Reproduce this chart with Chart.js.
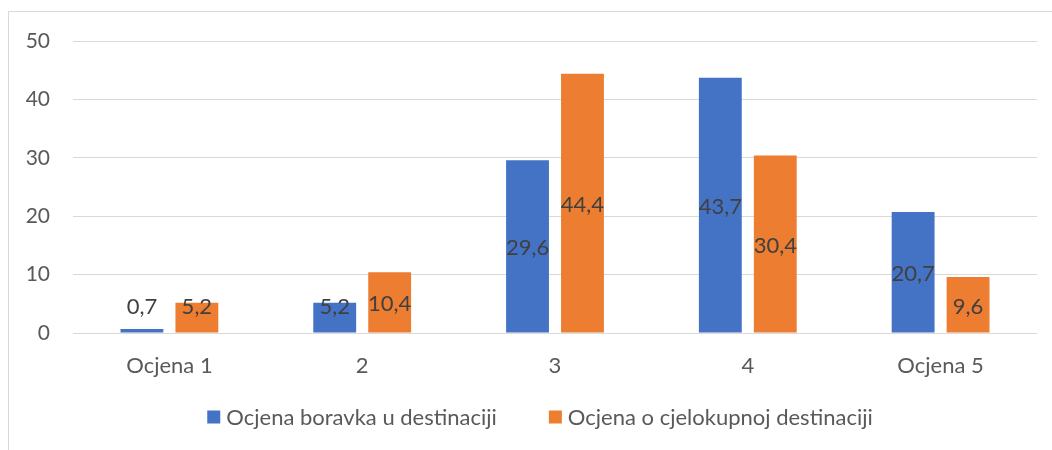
<!DOCTYPE html>
<html>
<head>
<meta charset="utf-8">
<script src="https://cdn.jsdelivr.net/npm/chart.js@4.4.0/dist/chart.umd.min.js"></script>
<style>
  html, body { margin: 0; padding: 0; background: #fff; }
  #wrap { width: 1052px; height: 450px; }
</style>
</head>
<body>
<div id="wrap"><canvas id="chart" width="1052" height="450"></canvas></div>
<script>
var categories = ['Ocjena 1', '2', '3', '4', 'Ocjena 5'];
var boravak = [0.7, 5.2, 29.6, 43.7, 20.7];
var cjelokupna = [5.2, 10.4, 44.4, 30.4, 9.6];
var seriesNames = ['Ocjena boravka u destinaciji', 'Ocjena o cjelokupnoj destinaciji'];
var yTicks = [0, 10, 20, 30, 40, 50];

var FONT = 'Lato, "Open Sans", sans-serif';
var TEXT = '#595959';

// frame round the chart, cut off at right and bottom like in the picture
var frame = {
  id: 'frame',
  beforeDraw: function (chart) {
    var ctx = chart.ctx;
    ctx.save();
    ctx.fillStyle = '#fff';
    ctx.fillRect(0, 0, chart.width, chart.height);
    ctx.strokeStyle = '#d9d9d9';
    ctx.lineWidth = 1;
    ctx.strokeRect(8.5, 11.5, 1200, 1000);
    ctx.restore();
  }
};

// numbers in the middle of the bars, comma as decimal sign
var valueLabels = {
  id: 'valueLabels',
  afterDatasetsDraw: function (chart) {
    var ctx = chart.ctx;
    ctx.save();
    ctx.font = '22px ' + FONT;
    ctx.fillStyle = '#404040';
    ctx.textAlign = 'center';
    ctx.textBaseline = 'middle';
    chart.data.datasets.forEach(function (ds, i) {
      chart.getDatasetMeta(i).data.forEach(function (bar, j) {
        var y = Math.min((bar.y + bar.base) / 2 + 2, bar.base - 26);
        ctx.fillText(ds.data[j].toFixed(1).replace('.', ','), bar.x, y);
      });
    });
    ctx.restore();
  }
};

// legend under the chart
var bottomLegend = {
  id: 'bottomLegend',
  afterDraw: function (chart) {
    var ctx = chart.ctx;
    var box = 13, gap = 6, spacing = 52, cy = 417;
    ctx.save();
    ctx.font = '22px ' + FONT;
    ctx.textBaseline = 'middle';
    var widths = chart.data.datasets.map(function (ds) {
      return box + gap + ctx.measureText(ds.label).width;
    });
    var total = widths.reduce(function (a, b) { return a + b; }, 0) + spacing * (widths.length - 1);
    var x = 540 - total / 2;
    chart.data.datasets.forEach(function (ds, i) {
      ctx.fillStyle = ds.backgroundColor;
      ctx.fillRect(x, cy - box / 2, box, box);
      ctx.fillStyle = TEXT;
      ctx.fillText(ds.label, x + box + gap, cy + 1);
      x += widths[i] + spacing;
    });
    ctx.restore();
  }
};

new Chart(document.getElementById('chart'), {
  type: 'bar',
  data: {
    labels: categories,
    datasets: [
      { label: seriesNames[0], data: boravak, backgroundColor: '#4472C4' },
      { label: seriesNames[1], data: cjelokupna, backgroundColor: '#ED7D31' }
    ]
  },
  options: {
    responsive: false,
    animation: false,
    devicePixelRatio: 1,
    categoryPercentage: 0.57,
    barPercentage: 0.78,
    layout: { padding: { left: 0, right: 15, top: 41, bottom: 67 } },
    plugins: {
      legend: { display: false },
      tooltip: { enabled: false }
    },
    scales: {
      x: {
        grid: { display: false },
        border: { display: false },
        ticks: { color: TEXT, font: { family: FONT, size: 22 }, padding: 12, maxRotation: 0 },
        afterFit: function (s) { s.height = 50; }
      },
      y: {
        min: 0,
        max: 50,
        afterBuildTicks: function (s) { s.ticks = yTicks.map(function (v) { return { value: v }; }); },
        grid: { color: '#d9d9d9', lineWidth: 1, drawTicks: false },
        border: { display: false },
        ticks: { color: TEXT, font: { family: FONT, size: 21 }, padding: 23 },
        afterFit: function (s) { s.width = 73; }
      }
    }
  },
  plugins: [frame, valueLabels, bottomLegend]
});
</script>
</body>
</html>
